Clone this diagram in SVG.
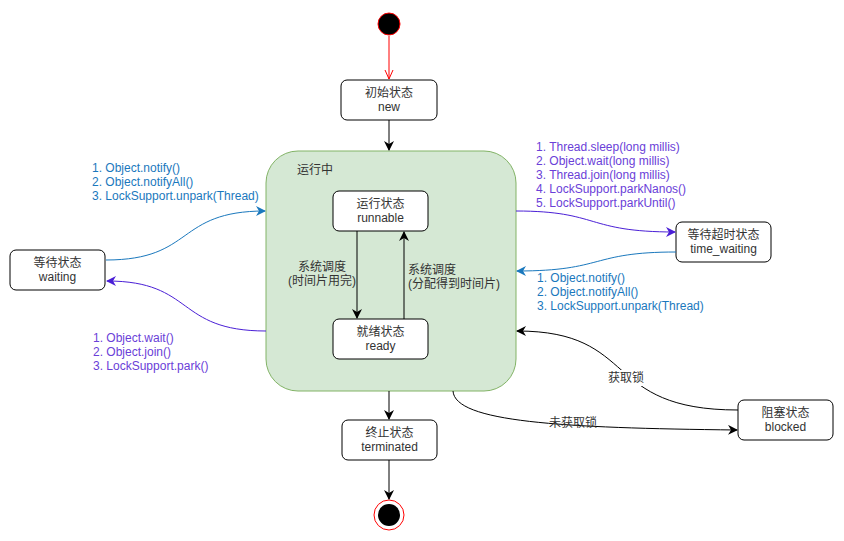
<svg xmlns="http://www.w3.org/2000/svg" width="844" height="541" viewBox="0 0 844 541">
<defs>
<style>
text{font-family:"Liberation Sans","Noto Sans CJK SC",sans-serif;font-size:12px;fill:#333}
.c{text-anchor:middle}
.box{fill:#fff;stroke:#000;stroke-width:1}
.ln{fill:none;stroke:#000;stroke-width:1}
.teal{fill:none;stroke:#1a78bd;stroke-width:1}
.purp{fill:none;stroke:#4a1fd6;stroke-width:1}
.tt{fill:#1a78bd}
.pt{fill:#6a40d8}
</style>
<marker id="ab" viewBox="0 0 10 10" refX="9" refY="5" markerWidth="10" markerHeight="10" markerUnits="userSpaceOnUse" orient="auto"><path d="M0,0 L10,5 L0,10 L3,5 Z" fill="#000"/></marker>
<marker id="at" viewBox="0 0 10 10" refX="9" refY="5" markerWidth="10" markerHeight="10" markerUnits="userSpaceOnUse" orient="auto"><path d="M0,0 L10,5 L0,10 L3,5 Z" fill="#1a78bd"/></marker>
<marker id="ap" viewBox="0 0 10 10" refX="9" refY="5" markerWidth="10" markerHeight="10" markerUnits="userSpaceOnUse" orient="auto"><path d="M0,0 L10,5 L0,10 L3,5 Z" fill="#4a1fd6"/></marker>
<marker id="ao" viewBox="0 0 10 10" refX="9" refY="5" markerWidth="10" markerHeight="10" markerUnits="userSpaceOnUse" orient="auto"><path d="M0,1 L9,5 L0,9" fill="none" stroke="#ff0000"/></marker>
</defs>
<rect width="844" height="541" fill="#fff"/>

<g id="container">
<rect x="266" y="151" width="250" height="240" rx="32" ry="32" fill="#d5e8d4" stroke="#82b366"/>
<text x="297" y="174">运行中</text>
</g>

<g id="start"><circle cx="389" cy="24" r="11" fill="#000" stroke="#ff0000"/></g>
<g id="end"><circle cx="389" cy="515" r="15" fill="#fff" stroke="#ff0000"/><circle cx="389" cy="515" r="11" fill="#000"/></g>

<g id="new"><rect class="box" x="341" y="80" width="96" height="40" rx="6"/><text class="c" x="389" y="97">初始状态</text><text class="c" x="389" y="111">new</text></g>
<g id="runnable"><rect class="box" x="333" y="191" width="95" height="40" rx="6"/><text class="c" x="380.5" y="208">运行状态</text><text class="c" x="380.5" y="222">runnable</text></g>
<g id="ready"><rect class="box" x="333" y="319" width="95" height="40" rx="6"/><text class="c" x="380.5" y="336">就绪状态</text><text class="c" x="380.5" y="350">ready</text></g>
<g id="waiting"><rect class="box" x="10" y="250" width="95" height="40" rx="6"/><text class="c" x="57.5" y="267">等待状态</text><text class="c" x="57.5" y="281">waiting</text></g>
<g id="time_waiting"><rect class="box" x="676" y="222" width="95" height="40" rx="6"/><text class="c" x="723.5" y="239">等待超时状态</text><text class="c" x="723.5" y="253">time_waiting</text></g>
<g id="blocked"><rect class="box" x="738" y="400" width="95" height="40" rx="6"/><text class="c" x="785.5" y="417">阻塞状态</text><text class="c" x="785.5" y="431">blocked</text></g>
<g id="terminated"><rect class="box" x="342" y="420" width="95" height="40" rx="6"/><text class="c" x="389.5" y="437">终止状态</text><text class="c" x="389.5" y="451">terminated</text></g>

<g id="connectors">
<path d="M389,36 L389,79" fill="none" stroke="#ff0000" marker-end="url(#ao)"/>
<path class="ln" d="M389,120 L389,150" marker-end="url(#ab)"/>
<path class="ln" d="M357,231 L357,318" marker-end="url(#ab)"/>
<path class="ln" d="M404,319 L404,232" marker-end="url(#ab)"/>
<path class="ln" d="M389,391 L389,419" marker-end="url(#ab)"/>
<path class="ln" d="M389,460 L389,499" marker-end="url(#ab)"/>
<path class="teal" d="M106,260 C195,260 175,211 265,211" marker-end="url(#at)"/>
<path class="purp" d="M266,331 C175,331 195,281 107,281" marker-end="url(#ap)"/>
<path class="purp" d="M516,211 C600,211 585,232 675,232" marker-end="url(#ap)"/>
<path class="teal" d="M676,252 C590,252 605,271 517,271" marker-end="url(#at)"/>
<path class="ln" d="M738,410 C600,410 640,331 517,331" marker-end="url(#ab)"/>
<path class="ln" d="M453,391 C455,422 560,428 737,430" marker-end="url(#ab)"/>
<text class="c" x="322" y="271">系统调度</text>
<text class="c" x="322" y="285">(时间片用完)</text>
<text class="c" x="432" y="274">系统调度</text>
<text class="c" x="454" y="288">(分配得到时间片)</text>
<text class="tt" x="92" y="172">1. Object.notify()</text>
<text class="tt" x="92" y="186">2. Object.notifyAll()</text>
<text class="tt" x="92" y="200">3. LockSupport.unpark(Thread)</text>
<text class="pt" x="93" y="342">1. Object.wait()</text>
<text class="pt" x="93" y="356">2. Object.join()</text>
<text class="pt" x="93" y="370">3. LockSupport.park()</text>
<text class="pt" x="536" y="151">1. Thread.sleep(long millis)</text>
<text class="pt" x="536" y="165">2. Object.wait(long millis)</text>
<text class="pt" x="536" y="179">3. Thread.join(long millis)</text>
<text class="pt" x="536" y="193">4. LockSupport.parkNanos()</text>
<text class="pt" x="536" y="207">5. LockSupport.parkUntil()</text>
<text class="tt" x="537" y="282">1. Object.notify()</text>
<text class="tt" x="537" y="296">2. Object.notifyAll()</text>
<text class="tt" x="537" y="310">3. LockSupport.unpark(Thread)</text>
<rect x="607" y="370" width="38" height="16" fill="#fff"/>
<text class="c" x="626" y="382">获取锁</text>
<text class="c" x="573" y="427">未获取锁</text>
</g>
</svg>
